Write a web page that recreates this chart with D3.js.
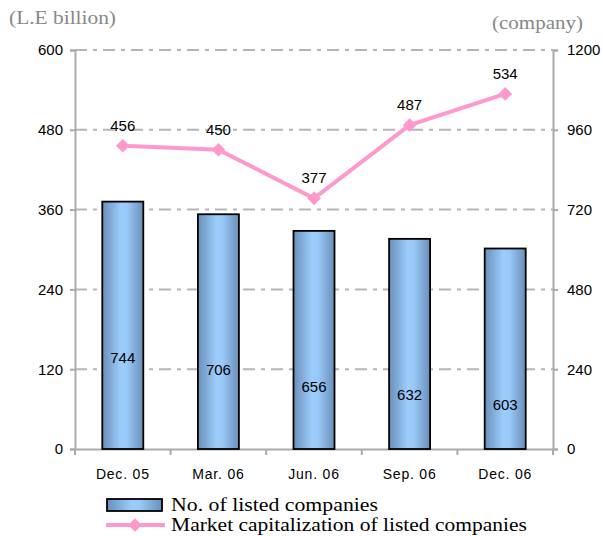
<!DOCTYPE html>
<html>
<head>
<meta charset="UTF-8">
<script src="https://d3js.org/d3.v7.min.js"></script>
<style>
  body { margin: 0; background: #fff; }
  .tick text { font-family: "Liberation Sans", Arial, sans-serif; font-size: 15px; fill: #000; }
  .unit { font-family: "Liberation Serif", "Times New Roman", serif; font-size: 18px; fill: #888; }
  .legend { font-family: "Liberation Serif", "Times New Roman", serif; font-size: 18px; fill: #000; }
  .val { font-family: "Liberation Sans", Arial, sans-serif; font-size: 15px; fill: #000; }
</style>
</head>
<body>
<svg width="603" height="536"></svg>
<script>
var periods = ["Dec. 05", "Mar. 06", "Jun. 06", "Sep. 06", "Dec. 06"];
var companies = [744, 706, 656, 632, 603];
var marketCap = [456, 450, 377, 487, 534];
var leftTicks = [0, 120, 240, 360, 480, 600];
var rightTicks = [0, 240, 480, 720, 960, 1200];

var svg = d3.select("svg");
var mLeft = 75, mRight = 553, mTop = 50, mBottom = 449;

var x = d3.scaleBand().domain(periods).range([mLeft, mRight]);
var yL = d3.scaleLinear().domain([0, 600]).range([mBottom, mTop]);
var yR = d3.scaleLinear().domain([0, 1200]).range([mBottom, mTop]);

// gradient for bars
var grad = svg.append("defs").append("linearGradient").attr("id", "barGrad")
  .attr("x1", "0%").attr("x2", "100%").attr("y1", "0%").attr("y2", "0%");
grad.append("stop").attr("offset", "0%").attr("stop-color", "#6a8fba");
grad.append("stop").attr("offset", "45%").attr("stop-color", "#9cccfb");
grad.append("stop").attr("offset", "60%").attr("stop-color", "#99c9f8");
grad.append("stop").attr("offset", "100%").attr("stop-color", "#6a8fba");

// gridlines
svg.append("g").selectAll("line").data(leftTicks.slice(1)).enter().append("line")
  .attr("x1", mLeft).attr("x2", mRight)
  .attr("y1", d => yL(d)).attr("y2", d => yL(d))
  .attr("stroke", "#b5b5b5").attr("stroke-width", 2)
  .attr("stroke-dasharray", "12,6,4,6");

// axes
var axL = svg.append("g").attr("transform", "translate(" + mLeft + ",0)")
  .call(d3.axisLeft(yL).tickValues(leftTicks).tickSize(5).tickPadding(7));
var axR = svg.append("g").attr("transform", "translate(" + mRight + ",0)")
  .call(d3.axisRight(yR).tickValues(rightTicks).tickFormat(d3.format("d")).tickSize(5).tickPadding(9));
var axB = svg.append("g").attr("transform", "translate(0," + mBottom + ")")
  .call(d3.axisBottom(x).tickSize(0).tickPadding(20));
axB.selectAll(".tick text").style("font-size", "14px").style("letter-spacing", "0.8px");
// category separators on bottom axis
var seps = periods.map(p => x(p)).concat([mRight]);
svg.append("g").selectAll("line").data(seps).enter().append("line")
  .attr("x1", d => d).attr("x2", d => d)
  .attr("y1", mBottom).attr("y2", mBottom + 6)
  .attr("stroke", "#aaa").attr("stroke-width", 2);
[axL, axR, axB].forEach(function (a) {
  a.selectAll(".domain").attr("stroke", "#aaa").attr("stroke-width", 2);
  a.selectAll(".tick line").attr("stroke", "#aaa").attr("stroke-width", 2);
});

// bars
var bw = 41;
svg.append("g").selectAll("rect").data(companies).enter().append("rect")
  .attr("x", (d, i) => x(periods[i]) + x.bandwidth() / 2 - bw / 2)
  .attr("width", bw)
  .attr("y", d => yR(d))
  .attr("height", d => mBottom - yR(d))
  .attr("fill", "url(#barGrad)")
  .attr("stroke", "#000").attr("stroke-width", 1.8);

svg.append("g").selectAll("text").data(companies).enter().append("text")
  .attr("class", "val")
  .attr("x", (d, i) => x(periods[i]) + x.bandwidth() / 2)
  .attr("y", d => yR(d) + 161)
  .attr("text-anchor", "middle")
  .text(d => d);

// line
var line = d3.line()
  .x((d, i) => x(periods[i]) + x.bandwidth() / 2)
  .y(d => yL(d));
svg.append("path").datum(marketCap).attr("d", line)
  .attr("fill", "none").attr("stroke", "#ff99cc").attr("stroke-width", 4);
var diamond = d3.symbol().type(d3.symbolDiamond2).size(120);
svg.append("g").selectAll("path").data(marketCap).enter().append("path")
  .attr("d", diamond)
  .attr("transform", (d, i) => "translate(" + (x(periods[i]) + x.bandwidth() / 2) + "," + yL(d) + ")")
  .attr("fill", "#ff99cc");
svg.append("g").selectAll("text").data(marketCap).enter().append("text")
  .attr("class", "val")
  .attr("x", (d, i) => x(periods[i]) + x.bandwidth() / 2)
  .attr("y", d => yL(d) - 15)
  .attr("text-anchor", "middle")
  .text(d => d);

// unit labels
svg.append("text").attr("class", "unit").attr("x", 9).attr("y", 24)
  .attr("textLength", 107).attr("lengthAdjust", "spacingAndGlyphs").text("(L.E billion)");
svg.append("text").attr("class", "unit").attr("x", 492).attr("y", 29)
  .attr("textLength", 91).attr("lengthAdjust", "spacingAndGlyphs").text("(company)");

// legend
svg.append("rect").attr("x", 107).attr("y", 499).attr("width", 55).attr("height", 12)
  .attr("fill", "url(#barGrad)").attr("stroke", "#000").attr("stroke-width", 1.8);
svg.append("text").attr("class", "legend").attr("x", 171).attr("y", 511)
  .attr("textLength", 207).attr("lengthAdjust", "spacingAndGlyphs").text("No. of listed companies");
svg.append("line").attr("x1", 106).attr("x2", 165).attr("y1", 525).attr("y2", 525)
  .attr("stroke", "#ff99cc").attr("stroke-width", 4);
svg.append("path").attr("d", diamond).attr("transform", "translate(135,525)").attr("fill", "#ff99cc");
svg.append("text").attr("class", "legend").attr("x", 171).attr("y", 531)
  .attr("textLength", 356).attr("lengthAdjust", "spacingAndGlyphs").text("Market capitalization of listed companies");
</script>
</body>
</html>
